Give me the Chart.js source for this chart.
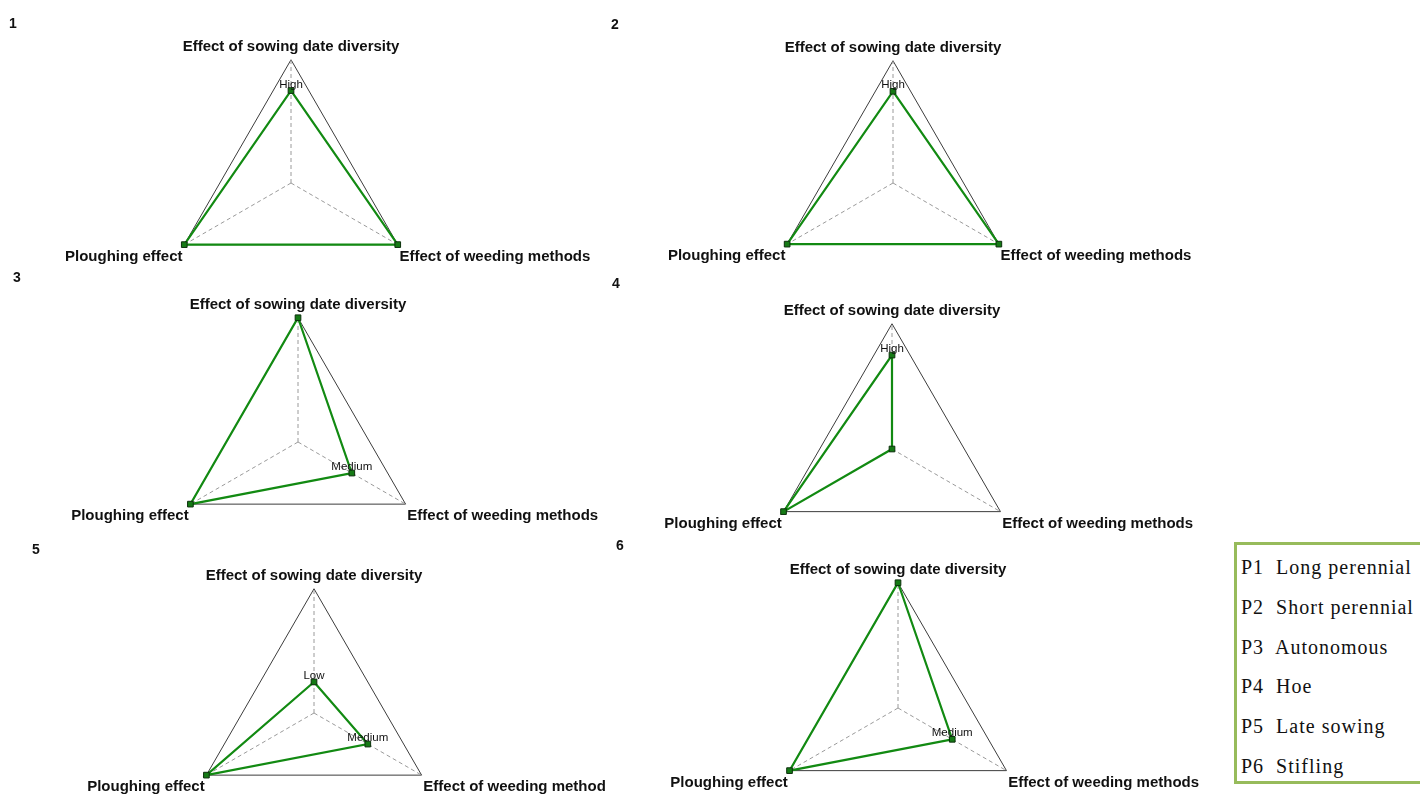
<!DOCTYPE html>
<html>
<head>
<meta charset="utf-8">
<title>Weed management effects by practice</title>
<script src="https://cdn.jsdelivr.net/npm/chart.js@4.4.1/dist/chart.umd.min.js"></script>
<style>
  html, body { margin: 0; padding: 0; background: #fff; }
  body { width: 1420px; height: 798px; position: relative; overflow: hidden; }
  canvas.radar { position: absolute; }
  .panel-no {
    position: absolute; font: bold 14px "Liberation Sans", Arial, sans-serif;
    line-height: 14px; color: #111;
  }
  #key {
    position: absolute; left: 1234px; top: 542px; width: 210px; height: 234px;
    border: 3px solid #97bb5b; padding: 2px 0 0 4px;
    font-family: "Liberation Serif", "Times New Roman", serif; font-size: 20px;
    color: #111; letter-spacing: 1px;
  }
  #key div { height: 39.8px; line-height: 40px; white-space: pre; }
</style>
</head>
<body>
<div id="key"></div>
<script>
// Axes of every radar, clockwise from the top
const categories = ['Effect of sowing date diversity', 'Effect of weeding methods', 'Ploughing effect'];
const categoriesP5 = ['Effect of sowing date diversity', 'Effect of weeding method', 'Ploughing effect'];

// Ordinal scale: 0 = none ... 4 = maximum; only Low/Medium/High get a tag
const levelNames = ['', 'Low', 'Medium', 'High', ''];
const scaleMax = 4;

// Rating of each practice on the three axes
const p1Values = [3, 4, 4];
const p2Values = [3, 4, 4];
const p3Values = [4, 2, 4];
const p4Values = [3, 0, 4];
const p5Values = [1, 2, 4];
const p6Values = [4, 2, 4];

const practiceCodes = ['P1', 'P2', 'P3', 'P4', 'P5', 'P6'];
const practiceNames = ['Long perennial', 'Short perennial', 'Autonomous', 'Hoe', 'Late sowing', 'Stifling'];

// Panel layout: centre and radius of each triangle, and its number tag
const panels = [
  { no: '1', values: p1Values, labels: categories,   cx: 291, cy: 183, r: 123, tag: [9, 16] },
  { no: '2', values: p2Values, labels: categories,   cx: 893, cy: 183, r: 122, tag: [611, 17] },
  { no: '3', values: p3Values, labels: categories,   cx: 298, cy: 442, r: 124, tag: [13, 270] },
  { no: '4', values: p4Values, labels: categories,   cx: 892, cy: 449, r: 125, tag: [612, 276] },
  { no: '5', values: p5Values, labels: categoriesP5, cx: 314, cy: 713, r: 124, tag: [32, 542] },
  { no: '6', values: p6Values, labels: categories,   cx: 898, cy: 708, r: 125, tag: [616, 538] }
];

const LABEL_SIZE = 15;
const LABEL_LINE = 1.45;
const LABEL_PAD = 2;
const CANVAS_W = 760;

// Writes Low / Medium / High just above the matching points
const levelTags = {
  id: 'levelTags',
  afterDatasetsDraw(chart) {
    const ctx = chart.ctx;
    const meta = chart.getDatasetMeta(0);
    const vals = chart.data.datasets[0].data;
    ctx.save();
    ctx.font = '11.5px "Liberation Sans", Arial, sans-serif';
    ctx.fillStyle = '#111';
    ctx.textAlign = 'center';
    ctx.textBaseline = 'alphabetic';
    meta.data.forEach((pt, i) => {
      const name = levelNames[vals[i]];
      if (name) ctx.fillText(name, pt.x, pt.y - 3);
    });
    ctx.restore();
  }
};

panels.forEach(p => {
  // Size the canvas so the scale ends up with the wanted centre and radius
  const band = LABEL_PAD + LABEL_SIZE * LABEL_LINE;
  const half = Math.ceil(p.r + band);
  const H = half * 2;
  const canvas = document.createElement('canvas');
  canvas.className = 'radar';
  canvas.width = CANVAS_W;
  canvas.height = H;
  canvas.style.width = CANVAS_W + 'px';
  canvas.style.height = H + 'px';
  canvas.style.left = (p.cx - CANVAS_W / 2) + 'px';
  canvas.style.top = (p.cy - half - Math.floor(band / 2)) + 'px';
  document.body.appendChild(canvas);

  const tag = document.createElement('div');
  tag.className = 'panel-no';
  tag.textContent = p.no;
  tag.style.left = p.tag[0] + 'px';
  tag.style.top = p.tag[1] + 'px';
  document.body.appendChild(tag);

  new Chart(canvas, {
    type: 'radar',
    data: {
      labels: p.labels,
      datasets: [{
        data: p.values,
        fill: false,
        borderColor: '#128a12',
        borderWidth: 2.2,
        pointStyle: 'rect',
        pointRadius: 4,
        pointBackgroundColor: '#157a15',
        pointBorderColor: '#0c300c',
        pointBorderWidth: 1,
        tension: 0
      }]
    },
    options: {
      responsive: false,
      animation: false,
      devicePixelRatio: 1,
      layout: { padding: 0 },
      plugins: { legend: { display: false }, tooltip: { enabled: false } },
      scales: {
        r: {
          min: 0,
          max: scaleMax,
          ticks: { display: false, stepSize: scaleMax },
          grid: { color: '#3c3c3c', lineWidth: 1 },
          angleLines: { color: '#9a9a9a', lineWidth: 1, borderDash: [4, 3] },
          pointLabels: {
            padding: LABEL_PAD,
            color: '#111',
            font: { family: '"Liberation Sans", Arial, sans-serif', size: LABEL_SIZE, weight: 'bold', lineHeight: LABEL_LINE }
          }
        }
      }
    },
    plugins: [levelTags]
  });
});

// Key of practice codes
const key = document.getElementById('key');
practiceCodes.forEach((code, i) => {
  const row = document.createElement('div');
  row.textContent = code + '  ' + practiceNames[i];
  key.appendChild(row);
});
</script>
</body>
</html>
